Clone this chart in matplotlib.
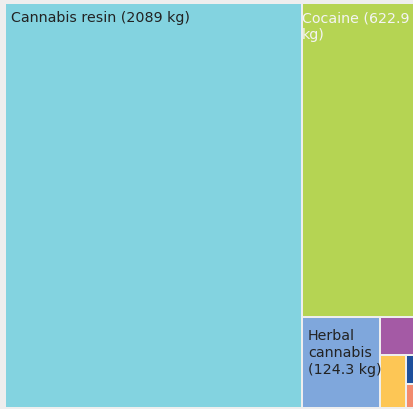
import matplotlib
matplotlib.use("Agg")
import matplotlib.pyplot as plt
from matplotlib.patches import Rectangle

# ===== data (kg) =====
names = ["Cannabis resin", "Cocaine", "Herbal cannabis", "Heroin",
         "Amphetamine", "Ecstasy", "Khat"]
weights = [2089, 622.9, 124.3, 24.0, 23.5, 5.2, 4.3]

# ===== styles =====
colors = ["#83d3e0", "#b5d453", "#7fa7dc", "#a45aa5", "#fdc655", "#1e4f9c", "#f28a6e"]
label_style = {
    "Cannabis resin": dict(dx=6, dy=7, color="#222222"),
    "Cocaine": dict(dx=0, dy=7, color="#f4f4f4"),
    "Herbal cannabis": dict(dx=6, dy=11, color="#222222"),
}
bg = "#eeeeee"
FS = 10.3

FIG_W, FIG_H = 414, 410
AX_X0, AX_W = 5, 411      # pixels
AX_Y0, AX_H = 4, 405      # from top, pixels


def worst(row, side):
    s = sum(row)
    return max(max(side * side * r / (s * s), s * s / (side * side * r)) for r in row)


# squarified layout, direction alternates row by row (starts vertical)
def squarify(values, x, y, w, h):
    total = sum(values)
    areas = [v / total * w * h for v in values]
    rects = []
    vertical = True
    while areas:
        side = h if vertical else w
        row = [areas[0]]
        i = 1
        while i < len(areas) and worst(row + [areas[i]], side) <= worst(row, side):
            row.append(areas[i])
            i += 1
        s = sum(row)
        if vertical:
            cw = s / h
            yy = y
            for r in row:
                rh = r / cw
                rects.append((x, yy, cw, rh))
                yy += rh
            x += cw
            w -= cw
        else:
            rh = s / w
            xx = x
            for r in row:
                rw = r / rh
                rects.append((xx, y, rw, rh))
                xx += rw
            y += rh
            h -= rh
        areas = areas[i:]
        vertical = not vertical
    return rects


fig = plt.figure(figsize=(FIG_W / 100, FIG_H / 100), dpi=100, facecolor=bg)
ax = fig.add_axes([AX_X0 / FIG_W, (FIG_H - AX_Y0 - AX_H) / FIG_H, AX_W / FIG_W, AX_H / FIG_H])
ax.set_xlim(0, AX_W)
ax.set_ylim(AX_H, 0)
ax.axis("off")
renderer = fig.canvas.get_renderer()


def text_width(s):
    t = ax.text(0, 0, s, fontsize=FS)
    wpx = t.get_window_extent(renderer).width
    t.remove()
    return wpx


def wrap(label, maxw):
    lines = []
    cur = ""
    for word in label.split():
        test = word if not cur else cur + " " + word
        if text_width(test) <= maxw or not cur:
            cur = test
        else:
            lines.append(cur)
            cur = word
    lines.append(cur)
    return lines


rects = squarify(weights, 0, 0, AX_W, AX_H)
for (x, y, w, h), name, val, col in zip(rects, names, weights, colors):
    ax.add_patch(Rectangle((x, y), w, h, facecolor=col, edgecolor=bg, linewidth=1.44))
    if name not in label_style:
        continue
    st = label_style[name]
    label = "%s (%g kg)" % (name, val)
    lines = wrap(label, w)
    ax.text(x + st["dx"], y + st["dy"], "\n".join(lines), fontsize=FS, color=st["color"],
            va="top", ha="left", linespacing=1.3)

fig.savefig("out.png", dpi=100, facecolor=bg)
